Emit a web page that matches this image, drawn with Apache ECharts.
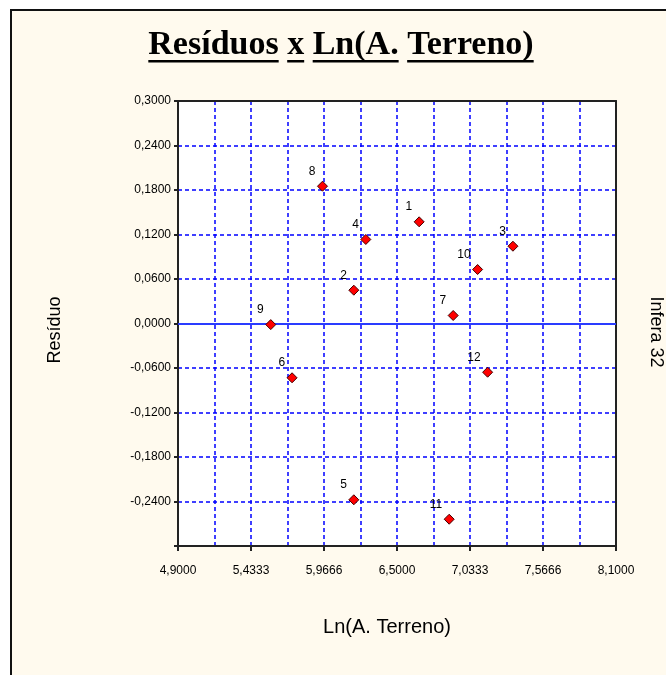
<!DOCTYPE html>
<html><head><meta charset="utf-8">
<script src="https://cdn.jsdelivr.net/npm/echarts@6/dist/echarts.min.js"></script>
<style>
html,body{margin:0;padding:0;background:#fff;}
#frame{position:absolute;left:10px;top:9px;width:656px;height:666px;background:#fffaee;border-top:2px solid #111;border-left:2px solid #111;}
#chart{position:absolute;left:0;top:0;width:666px;height:675px;}
</style></head><body>
<div id="frame"></div><div id="chart"></div>
<script>
const titleText = 'Resíduos x Ln(A. Terreno)';
const xName = 'Ln(A. Terreno)';
const yName = 'Resíduo';
const rightName = 'Infera 32';
const pointIds = ['1','2','3','4','5','6','7','8','9','10','11','12'];
const lnTerreno = [6.6619, 6.1845, 7.3470, 6.2722, 6.1845, 5.7334, 6.9105, 5.9557, 5.5777, 7.0889, 6.8813, 7.1620];
const residuos  = [0.1371, 0.0449, 0.1042, 0.1133, -0.2377, -0.0732, 0.0108, 0.1851, -0.0015, 0.0728, -0.2639, -0.0657];
const xMin = 4.9, xMax = 8.1, xMajorCount = 6;
const yMin = -0.3, yMax = 0.3, yStep = 0.06;
const zeroRef = 0;

const fmt = v => {
  let t = Math.floor(Math.abs(v) * 10000 + 1e-4) / 10000;
  const s = t.toFixed(4).replace('.', ',');
  return (v < 0 && t > 0) ? '-' + s : s;
};

const gridBlue = { color: '#0000ff', type: [4, 3], width: 1.5 };
const frameLine = { color: '#222', width: 2 };
const labelFont = { color: '#000', fontSize: 12, fontFamily: '"Liberation Sans", Arial, sans-serif' };

const chart = echarts.init(document.getElementById('chart'), null, { renderer: 'canvas' });

const ctx = document.createElement('canvas').getContext('2d');
const tFont = { size: 34, family: '"Liberation Serif", "Times New Roman", serif' };
ctx.font = 'bold ' + tFont.size + 'px ' + tFont.family;
const titleCx = 341;
const totalW = ctx.measureText(titleText).width;
const tx0 = titleCx - totalW / 2;
const underlines = [];
let prefix = '';
titleText.split(' ').forEach(w => {
  const off = ctx.measureText(prefix).width;
  const ww = ctx.measureText(w).width;
  underlines.push({ type: 'rect', shape: { x: tx0 + off, y: 60, width: ww, height: 2.5 }, style: { fill: '#000' } });
  prefix += w + ' ';
});

chart.setOption({
  animation: false,
  backgroundColor: 'transparent',
  grid: { left: 178, top: 101, right: 50, bottom: 129, show: true, backgroundColor: '#fff', borderColor: '#222', borderWidth: 0 },
  xAxis: [{
    type: 'value', min: xMin, max: xMax, interval: (xMax - xMin) / xMajorCount,
    axisLine: { show: true, onZero: false, lineStyle: frameLine },
    axisTick: { show: true, length: 5, lineStyle: frameLine },
    axisLabel: Object.assign({ formatter: fmt, margin: 19 }, labelFont),
    splitLine: { show: true, lineStyle: gridBlue },
    minorTick: { show: false, splitNumber: 2 },
    minorSplitLine: { show: true, lineStyle: gridBlue },
    z: 3
  }, {
    type: 'value', position: 'top', min: xMin, max: xMax,
    axisLine: { show: true, onZero: false, lineStyle: frameLine },
    axisTick: { show: false }, axisLabel: { show: false }, splitLine: { show: false },
    z: 4
  }],
  yAxis: [{
    type: 'value', min: yMin, max: yMax, interval: yStep,
    axisLine: { show: true, onZero: false, lineStyle: frameLine },
    axisTick: { show: true, length: 4, lineStyle: frameLine },
    axisLabel: Object.assign({ formatter: v => (v < yMin + 1e-6 ? '' : fmt(v)), margin: 7 }, labelFont),
    splitLine: { show: true, lineStyle: gridBlue },
    z: 3
  }, {
    type: 'value', position: 'right', min: yMin, max: yMax,
    axisLine: { show: true, onZero: false, lineStyle: frameLine },
    axisTick: { show: false }, axisLabel: { show: false }, splitLine: { show: false },
    z: 4
  }],
  series: [{
    type: 'scatter',
    data: pointIds.map((id, i) => [lnTerreno[i], residuos[i], id]),
    symbol: 'diamond', symbolSize: 10,
    itemStyle: { color: '#ff0000', borderColor: '#400', borderWidth: 1, opacity: 1 },
    label: Object.assign({ show: true, formatter: p => p.data[2], position: [-1.5, -9.5], align: 'right', verticalAlign: 'middle' }, labelFont),
    markLine: {
      silent: true, symbol: 'none', label: { show: false },
      lineStyle: { color: '#2a3cff', type: 'solid', width: 2 },
      data: [{ yAxis: zeroRef }]
    },
    z: 5
  }],
  graphic: [
    { type: 'text', x: titleCx, y: 45, style: { text: titleText, fontSize: tFont.size, fontWeight: 'bold', fontFamily: tFont.family, fill: '#000', align: 'center', verticalAlign: 'middle' } },
    ...underlines,
    { type: 'text', x: 387, y: 627, style: { text: xName, fontSize: 20, fontFamily: '"Liberation Sans", Arial, sans-serif', fill: '#000', align: 'center', verticalAlign: 'middle' } },
    { type: 'text', x: 55, y: 330, rotation: Math.PI / 2, style: { text: yName, fontSize: 18, fontFamily: '"Liberation Sans", Arial, sans-serif', fill: '#000', align: 'center', verticalAlign: 'middle' } },
    { type: 'text', x: 656, y: 332, rotation: -Math.PI / 2, style: { text: rightName, fontSize: 18, fontFamily: '"Liberation Sans", Arial, sans-serif', fill: '#000', align: 'center', verticalAlign: 'middle' } }
  ]
});
</script>
</body></html>
